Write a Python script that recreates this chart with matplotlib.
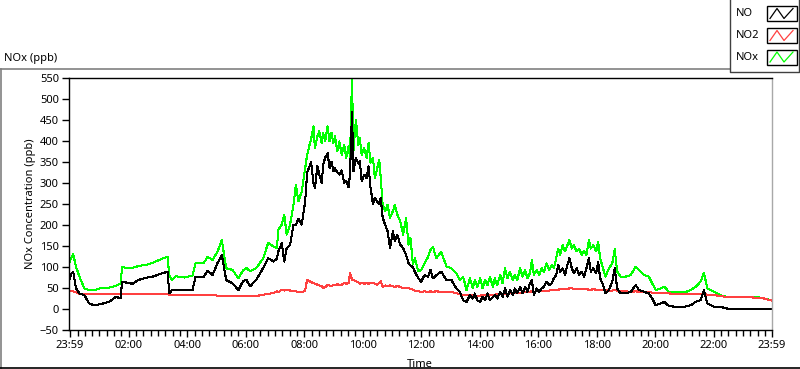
import matplotlib
matplotlib.use("Agg")
import matplotlib.pyplot as plt
from matplotlib.lines import Line2D
from matplotlib.patches import Rectangle

# minutes after 23:59 (start of record)
minutes = [0, 4, 7, 13, 20, 30, 40, 50, 65, 81, 95, 105, 107, 120, 129, 140, 160, 170, 190, 201,
           204, 210, 218, 235, 252, 258, 275, 283, 293, 303, 312, 321, 334, 346, 355, 362, 370, 383, 397, 407,
           418, 425, 428, 435, 440, 445,
           452, 459, 464, 469, 476, 483, 487, 492, 495, 500, 503, 508, 512, 517, 520, 524, 529, 533, 537, 541,
           544, 549, 553, 558, 563, 567, 572, 575, 579, 582, 587, 592, 595, 599, 604, 609, 613, 617, 622, 626,
           631, 635, 638, 642, 647, 652, 657, 663, 667, 672, 678, 684, 690, 695, 699, 704, 708, 715,
           721, 728, 735, 740, 745, 752, 762, 773, 783, 793, 800, 807, 814,
           821, 827, 831, 836, 842, 847, 852, 857, 862, 868, 872, 877, 883, 888, 893, 898, 903, 909, 913, 918,
           924, 929, 934, 939, 944, 948, 952, 958, 963, 968, 973, 978, 984, 989, 993, 998, 1002, 1006, 1011, 1016,
           1021, 1025, 1030, 1034, 1040, 1045, 1050, 1055, 1060, 1065, 1069, 1074, 1080, 1084, 1088,
           1093, 1099, 1106, 1113, 1118, 1123, 1130, 1140, 1151, 1161, 1168, 1178, 1188, 1195, 1202, 1212, 1220, 1229,
           1246, 1260, 1274, 1284, 1294, 1301, 1308, 1322, 1335, 1349, 1370, 1390, 1410, 1424, 1440]

no = [73, 85, 89, 49, 37, 33, 13, 9, 12, 17, 29, 25, 65, 62, 60, 69, 75, 77, 85, 89,
      37, 45, 45, 45, 45, 77, 77, 91, 81, 109, 128, 69, 61, 45, 65, 70, 54, 70, 98, 121,
      113, 120, 137, 157, 113, 145,
      153, 200, 200, 215, 201, 256, 325, 340, 350, 300, 288, 340, 320, 300, 344, 360, 371, 336, 350, 328,
      335, 325, 320, 330, 300, 305, 290, 320, 470, 328, 360, 346, 352, 304, 320, 312, 340, 290, 250, 265,
      255, 250, 264, 217, 201, 185, 145, 185, 161, 177, 153, 145, 129, 109, 104, 100, 88, 74,
      65, 81, 77, 93, 73, 80, 89, 69, 69, 49, 41, 21, 17,
      33, 25, 37, 21, 17, 29, 21, 37, 21, 29, 33, 25, 41, 29, 49, 29, 45, 33, 49, 37,
      53, 37, 53, 41, 61, 69, 33, 49, 41, 49, 53, 65, 57, 61, 73, 81, 105, 89, 97, 81,
      105, 121, 97, 85, 97, 81, 89, 77, 97, 121, 89, 97, 85, 113, 73,
      61, 37, 45, 65, 97, 49, 37, 37, 41, 57, 45, 41, 37, 25, 9, 13, 17, 7,
      5, 5, 9, 17, 21, 45, 13, 5, 5, 1, 1, 1, 1, 1, 1]

no2 = [43, 42, 42, 40, 36, 36, 36, 36, 36, 36, 36, 36, 36, 36, 36, 36, 36, 35, 35, 35,
       34, 34, 34, 33, 33, 33, 33, 33, 33, 32, 32, 31, 31, 30, 30, 30, 30, 31, 34, 36,
       38, 42, 40, 46, 44, 46,
       44, 44, 42, 40, 40, 44, 70, 66, 64, 62, 60, 58, 56, 54, 50, 52, 58, 56, 54, 58,
       56, 60, 56, 58, 62, 60, 62, 86, 70, 70, 66, 64, 60, 62, 60, 62, 60, 62, 62, 60,
       58, 62, 66, 52, 56, 54, 56, 54, 52, 56, 52, 50, 50, 50, 48, 46, 44, 42,
       41, 42, 40, 42, 41, 42, 41, 41, 40, 38, 35, 34, 33,
       33, 32, 31, 31, 32, 33, 33, 33, 34, 34, 34, 35, 35, 36, 36, 36, 37, 37, 38, 38,
       39, 39, 40, 40, 41, 42, 41, 42, 42, 43, 43, 44, 44, 45, 45, 46, 46, 47, 47, 48,
       48, 49, 49, 48, 48, 47, 47, 47, 47, 46, 46, 47, 46, 45, 45,
       45, 45, 44, 44, 45, 44, 43, 42, 41, 42, 41, 41, 40, 39, 38, 38, 37, 37,
       36, 36, 36, 36, 35, 37, 34, 33, 31, 28, 28, 28, 27, 25, 20]

nox = [113, 124, 131, 100, 77, 49, 45, 45, 50, 51, 55, 61, 100, 97, 98, 102, 106, 110, 120, 124,
       81, 69, 78, 75, 80, 109, 110, 124, 117, 136, 164, 97, 93, 73, 91, 98, 90, 98, 121, 157,
       149, 145, 189, 201, 225, 177,
       201, 248, 296, 256, 280, 336, 367, 391, 403, 435, 383, 411, 423, 395, 419, 399, 435, 399, 419, 395,
       411, 375, 399, 367, 391, 360, 387, 360, 550, 375, 451, 391, 407, 367, 383, 360, 395, 348, 360, 312,
       336, 356, 312, 248, 233, 248, 217, 233, 248, 225, 209, 177, 217, 153, 169, 106, 121, 90,
       93, 109, 124, 140, 148, 121, 136, 101, 97, 85, 69, 77, 45,
       73, 49, 69, 53, 73, 49, 69, 57, 77, 53, 73, 57, 81, 61, 97, 73, 89, 69, 81, 69,
       97, 77, 93, 73, 85, 117, 81, 93, 81, 97, 89, 109, 93, 105, 97, 121, 144, 129, 152, 137,
       152, 164, 144, 152, 137, 144, 129, 137, 129, 164, 144, 152, 137, 160, 121,
       101, 77, 97, 109, 142, 89, 77, 77, 81, 101, 93, 81, 77, 61, 45, 49, 53, 41,
       41, 39, 45, 53, 65, 86, 49, 41, 33, 28, 28, 29, 29, 25, 21]

tick_pos = [0, 121, 241, 361, 481, 601, 721, 841, 961, 1081, 1201, 1321, 1440]
tick_lab = ['23:59', '02:00', '04:00', '06:00', '08:00', '10:00', '12:00',
            '14:00', '16:00', '18:00', '20:00', '22:00', '23:59']
y_ticks = list(range(-50, 551, 50))

series_names = ['NO', 'NO2', 'NOx']
series_cols = ['#000000', '#ff4040', '#00ff00']

W, H = 800, 369
def fx(x):
    return x / W
def fy(y):
    return 1 - y / H

plt.rcParams['font.family'] = ['Noto Sans', 'DejaVu Sans']
fig = plt.figure(figsize=(8, 3.69), dpi=100)
ax = fig.add_axes([fx(68.5), fy(330), (771.7 - 68.5) / W, (330 - 78) / H])

ax.plot(minutes, nox, color=series_cols[2], lw=0.75, antialiased=False)
ax.plot(minutes, no2, color=series_cols[1], lw=0.75, antialiased=False)
ax.plot(minutes, no, color=series_cols[0], lw=0.75, antialiased=False)

ax.set_xlim(-2.5, 1440)
ax.set_ylim(-50, 550)
ax.set_xticks(tick_pos)
ax.set_xticklabels(tick_lab)
ax.set_xticks([0] + list(range(16, 1440, 15)) + [1440], minor=True)
ax.set_yticks(y_ticks)
ax.tick_params(axis='both', which='major', direction='out', length=5, width=1,
               labelsize=8, pad=2, colors='black')
ax.tick_params(axis='x', which='minor', direction='out', length=4, width=1)
ax.tick_params(axis='y', which='minor', length=0)
for s in ['left', 'bottom', 'top']:
    ax.spines[s].set_color('black')
    ax.spines[s].set_linewidth(1)
ax.spines['right'].set_color('#a8a8a8')
ax.spines['right'].set_linewidth(1)

ax.set_ylabel('NOx Concentration (ppb)', fontsize=8, labelpad=3)
ax.set_xlabel('Time', fontsize=8, labelpad=1)
ax.xaxis.set_label_coords(0.5, -0.115)

# panel frame
fig.add_artist(Line2D([fx(0), fx(730)], [fy(69), fy(69)], color='#808080', lw=1.2, transform=fig.transFigure))
fig.add_artist(Line2D([fx(0.7), fx(0.7)], [fy(69), fy(368)], color='#808080', lw=1.2, transform=fig.transFigure))
fig.add_artist(Line2D([fx(0), fx(800)], [fy(368), fy(368)], color='black', lw=1.2, transform=fig.transFigure))
fig.text(fx(4), fy(59), 'NOx (ppb)', fontsize=8, va='center', ha='left')

# legend box
fig.add_artist(Line2D([fx(730), fx(730), fx(799.3), fx(799.3)], [fy(0), fy(72), fy(72), fy(0)],
                      color='#404040', lw=1.0, transform=fig.transFigure))
rows_y = [13.5, 35.5, 57]
for name, col, yc in zip(series_names, series_cols, rows_y):
    fig.text(fx(736), fy(yc), name, fontsize=8, va='center', ha='left')
    fig.add_artist(Rectangle((fx(767), fy(yc + 7.5)), 30 / W, 15 / H, fill=False,
                             edgecolor='black', lw=1.0, transform=fig.transFigure))
    zx = [770, 777, 784, 793]
    zy = [yc + 5, yc - 5, yc + 5, yc - 5]
    fig.add_artist(Line2D([fx(v) for v in zx], [fy(v) for v in zy], color=col, lw=0.9,
                          transform=fig.transFigure))

fig.savefig('out.png', dpi=100)
